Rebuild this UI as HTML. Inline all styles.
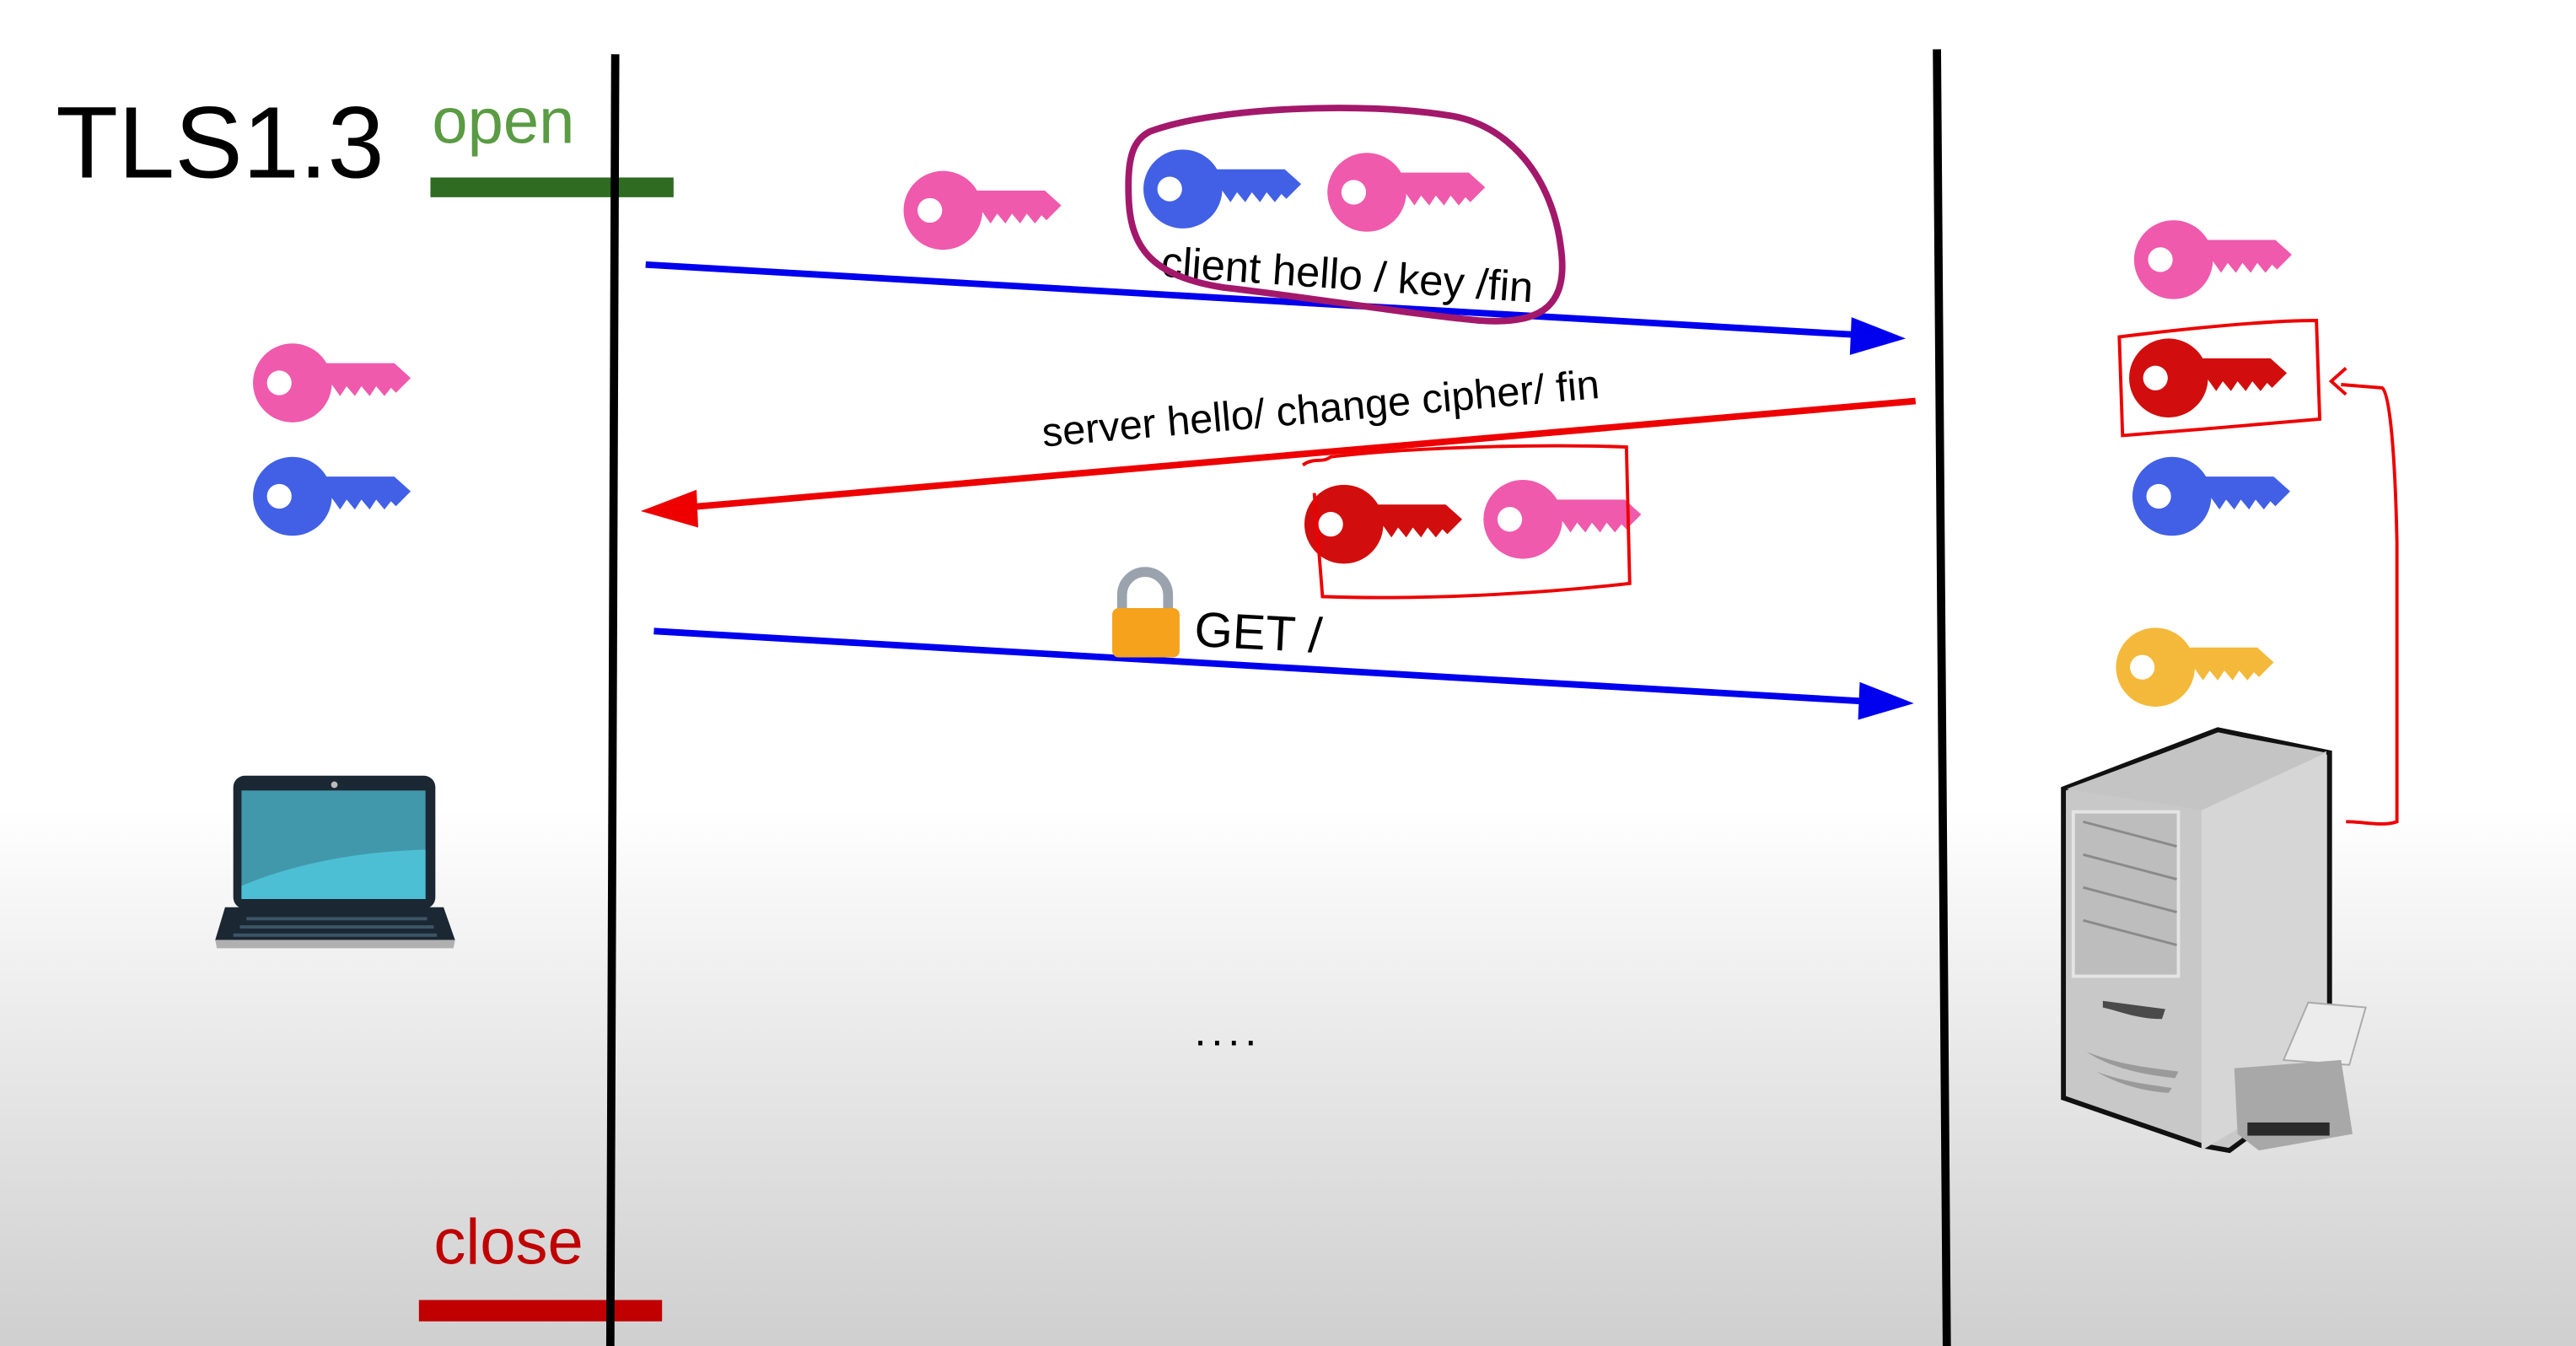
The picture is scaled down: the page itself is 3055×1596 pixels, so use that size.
<!DOCTYPE html>
<html><head><meta charset="utf-8"><style>
html,body{margin:0;padding:0;width:3055px;height:1596px;overflow:hidden;background:#fff}
svg{display:block}
text{font-family:"Liberation Sans",Arial,sans-serif}
</style></head><body>
<svg width="3055" height="1596" viewBox="0 0 1568 819" preserveAspectRatio="none" xmlns="http://www.w3.org/2000/svg">
<defs>
<linearGradient id="bg" x1="0" y1="0" x2="0" y2="1">
<stop offset="0" stop-color="#ffffff"/><stop offset="0.6" stop-color="#ffffff"/><stop offset="0.75" stop-color="#ececec"/><stop offset="1" stop-color="#cfcfcf"/>
</linearGradient>
<g id="key">
<circle cx="0" cy="0" r="24"/>
<path d="M18,-12 L62,-12 L72,-3 L63,6 L60,3 L56,8 L51,2 L47,8 L42,2 L38,8 L33,2 L29,8 L24,1 L18,1 Z"/>
<circle cx="-8" cy="0" r="7.5" fill="#fff"/>
</g>
</defs>
<rect width="1568" height="819" fill="url(#bg)"/>

<text x="34" y="108" font-size="62" fill="#000">TLS1.3</text>
<text x="263" y="87" font-size="39" fill="#5a9b43">open</text>
<rect x="262" y="108" width="148" height="12" fill="#2f6b21"/>
<text x="264" y="769" font-size="39" fill="#c00000">close</text>
<rect x="255" y="791" width="148" height="13" fill="#c00000"/>

<line x1="374.5" y1="33" x2="371.5" y2="819" stroke="#000" stroke-width="5"/>
<line x1="1179" y1="30" x2="1185" y2="819" stroke="#000" stroke-width="5"/>

<line x1="393" y1="161" x2="1135" y2="204" stroke="#0000ee" stroke-width="4"/>
<polygon points="1160,206 1127,193 1126,216" fill="#0000ee"/>
<line x1="1166" y1="244" x2="415" y2="309" stroke="#ee0000" stroke-width="4"/>
<polygon points="390,311 424,298 425,321" fill="#ee0000"/>
<line x1="398" y1="384" x2="1140" y2="427" stroke="#0000ee" stroke-width="4"/>
<polygon points="1165,428 1132,415 1131,438" fill="#0000ee"/>

<text x="820" y="176" font-size="26" text-anchor="middle" transform="rotate(4 820 168)" fill="#000">client hello / key /fin</text>
<text x="804" y="257" font-size="25" text-anchor="middle" transform="rotate(-5 804 250)" fill="#000">server hello/ change cipher/ fin</text>
<text x="727" y="393" font-size="30" transform="rotate(3 727 385)" fill="#000">GET /</text>
<text x="727" y="636" font-size="26" letter-spacing="3" fill="#000">....</text>

<path d="M683,372 L683,362 A14,14 0 0 1 711,362 L711,372" fill="none" stroke="#9aa3ad" stroke-width="6"/>
<rect x="677" y="370" width="41" height="30" rx="4" fill="#f6a21c"/>

<use href="#key" x="574" y="128" fill="#ef5aac"/>
<use href="#key" x="720" y="115" fill="#4160e6"/>
<use href="#key" x="832" y="117" fill="#ef5aac"/>
<use href="#key" x="178" y="233" fill="#ef5aac"/>
<use href="#key" x="178" y="302" fill="#4160e6"/>
<use href="#key" x="1323" y="158" fill="#ef5aac"/>
<use href="#key" x="1320" y="230" fill="#d10d0d"/>
<use href="#key" x="1322" y="302" fill="#4160e6"/>
<use href="#key" x="1312" y="406" fill="#f4b93a"/>
<use href="#key" x="818" y="319" fill="#d10d0d"/>
<use href="#key" x="927" y="316" fill="#ef5aac"/>

<path d="M700,80 C740,65 830,62 880,70 C920,75 945,110 950,150 C955,185 940,198 900,195 C850,190 790,180 745,175 C700,168 688,150 687,120 C686,95 690,85 700,80 Z" fill="none" stroke="#a3186b" stroke-width="4"/>
<path d="M1290,205 C1330,200 1380,195 1410,195 L1412,255 C1380,258 1330,262 1292,265 Z" fill="none" stroke="#ee0000" stroke-width="2"/>
<path d="M793,283 C800,278 805,282 810,278 C860,272 940,270 990,272 L992,355 C930,362 860,365 805,363 L800,300" fill="none" stroke="#ee0000" stroke-width="2"/>
<path d="M1428,500 C1440,500 1450,503 1459,500 L1459,330 C1458,280 1455,240 1450,236 L1425,234 M1428,224 L1419,232 L1428,240" fill="none" stroke="#ee0000" stroke-width="2"/>

<rect x="142" y="472" width="123" height="81" rx="7" fill="#1b2733"/>
<circle cx="203.5" cy="477.5" r="2" fill="#bbb"/>
<rect x="147" y="481" width="112" height="66" fill="#4298ab"/>
<path d="M147,539 C180,525 220,518 259,517 L259,547 L147,547 Z" fill="#4dbfd4"/>
<path d="M137,552 L270,552 L277,572 L131,572 Z" fill="#1b2733"/>
<path d="M131,572 L277,572 L276,577 L132,577 Z" fill="#b0b0b0"/>
<g fill="#3d5566"><rect x="150" y="558" width="110" height="2"/><rect x="146" y="563" width="118" height="2"/><rect x="142" y="568" width="124" height="2"/></g>

<path d="M1256,480 L1350,444 L1418,458 L1418,655 L1357,700 L1340,697 L1256,668 Z" fill="#c8c8c8" stroke="#111" stroke-width="3"/>
<path d="M1340,493 L1416,457 L1416,655 L1340,700 Z" fill="#d6d6d6"/>
<path d="M1258,480 L1350,446 L1416,458 L1340,493 Z" fill="#c4c4c4"/>
<rect x="1262" y="494" width="64" height="100" fill="#bdbdbd" stroke="#e4e4e4" stroke-width="2"/>
<g stroke="#8a8a8a" stroke-width="1.5"><line x1="1268" y1="500" x2="1325" y2="515"/><line x1="1268" y1="520" x2="1325" y2="535"/><line x1="1268" y1="540" x2="1325" y2="555"/><line x1="1268" y1="560" x2="1325" y2="575"/></g>
<path d="M1280,609 L1318,614 L1316,620 C1300,620 1290,615 1280,613 Z" fill="#4a4a4a"/>
<g fill="#9a9a9a"><path d="M1270,640 C1290,648 1310,650 1326,652 L1324,656 C1305,654 1285,650 1270,640 Z"/><path d="M1276,652 C1292,658 1308,660 1322,662 L1320,665 C1305,664 1290,660 1276,652 Z"/></g>
<path d="M1390,645 L1405,610 L1440,613 L1430,648 Z" fill="#ececec" stroke="#aaa"/>
<path d="M1360,650 L1425,645 L1432,690 L1375,700 L1362,690 Z" fill="#a8a8a8"/>
<rect x="1368" y="683" width="50" height="8" fill="#2a2a2a"/>
</svg>
</body></html>
